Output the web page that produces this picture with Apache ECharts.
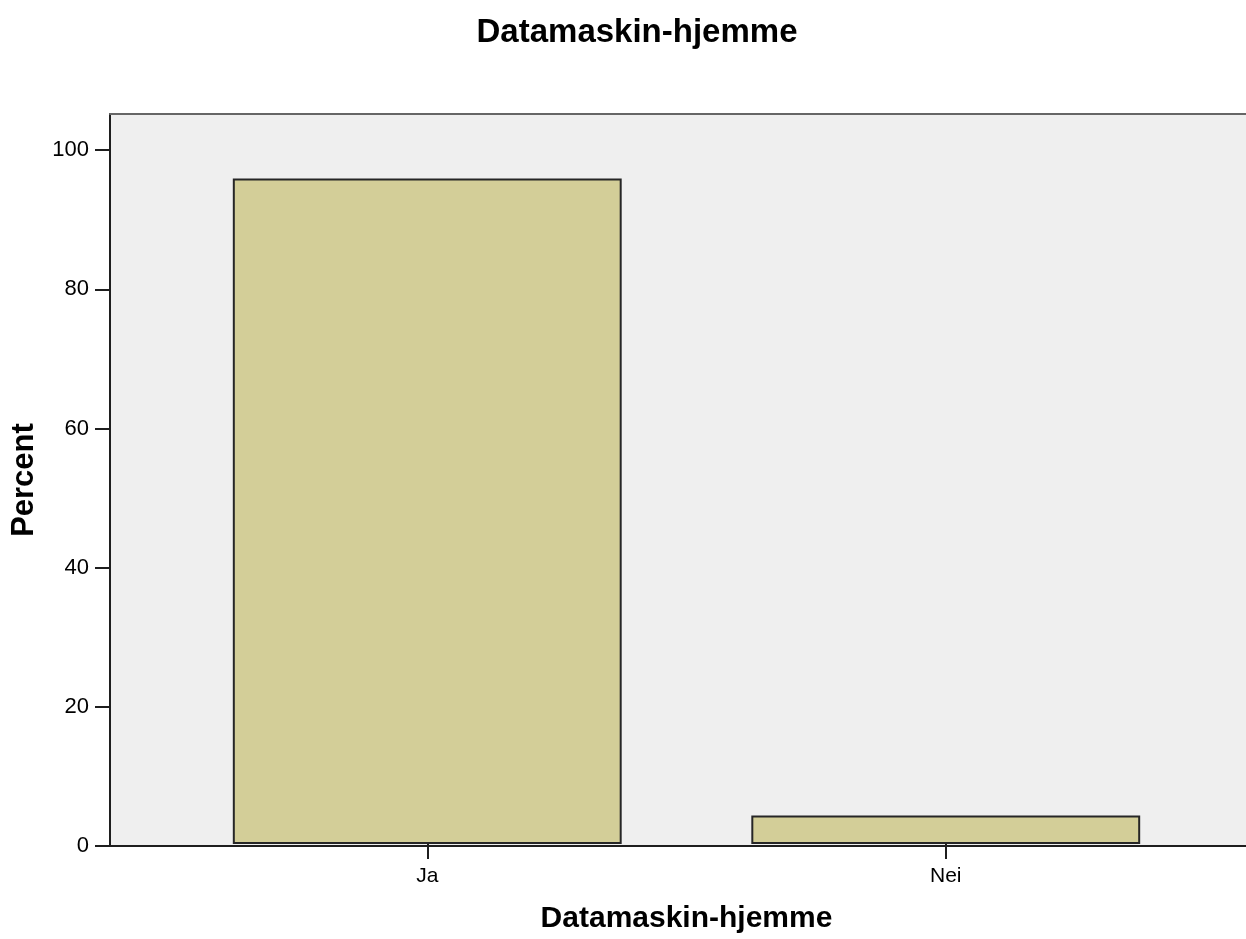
<!DOCTYPE html>
<html>
<head>
<meta charset="utf-8">
<title>Datamaskin-hjemme</title>
<script src="https://cdn.jsdelivr.net/npm/echarts@6/dist/echarts.min.js"></script>
<style>
  html, body { margin: 0; padding: 0; background: #fff; }
  #chart { width: 1246px; height: 939px; }
</style>
</head>
<body>
<div id="chart"></div>
<script>
// data
const categories = ['Ja', 'Nei'];
const percentValues = [95.9, 4.1];
const yTicks = [0, 20, 40, 60, 80, 100];

const yMax = 105.2;
const fontFamily = '"Liberation Sans", Arial, sans-serif';
const inkColor = '#1e1e1e';

const chart = echarts.init(document.getElementById('chart'));

const option = {
  backgroundColor: '#ffffff',
  animation: false,
  title: {
    text: 'Datamaskin-hjemme',
    left: 632,
    top: 11,
    textAlign: 'center',
    textStyle: { fontFamily, fontSize: 33, fontWeight: 'bold', color: '#000' }
  },
  grid: [
    // frame / plot background (open on the right)
    {
      left: 110, right: 0, top: 114, bottom: 93,
      show: true,
      backgroundColor: '#efefef',
      borderWidth: 0
    },
    // bar area (category bands)
    {
      left: 168, right: 41, top: 114, bottom: 93
    }
  ],
  xAxis: [
    {
      gridIndex: 0,
      type: 'value',
      min: 0,
      max: 1,
      axisLine: { show: true, lineStyle: { color: inkColor, width: 2 } },
      axisTick: { show: false },
      axisLabel: { show: false },
      splitLine: { show: false }
    },
    {
      gridIndex: 1,
      type: 'category',
      data: categories,
      name: 'Datamaskin-hjemme',
      nameLocation: 'middle',
      nameGap: 60,
      nameTextStyle: { fontFamily, fontSize: 30, fontWeight: 'bold', color: '#000' },
      axisLine: { show: false },
      axisTick: {
        show: true,
        alignWithLabel: true,
        length: 15,
        lineStyle: { color: inkColor, width: 2 }
      },
      axisLabel: { fontFamily, fontSize: 21, color: '#000', margin: 22 },
      splitLine: { show: false }
    },
    // top frame line
    {
      gridIndex: 0,
      type: 'value',
      position: 'top',
      min: 0,
      max: 1,
      axisLine: { show: true, lineStyle: { color: '#666666', width: 2 } },
      axisTick: { show: false },
      axisLabel: { show: false },
      splitLine: { show: false }
    }
  ],
  yAxis: [
    {
      gridIndex: 0,
      type: 'value',
      min: 0,
      max: yMax,
      name: 'Percent',
      nameLocation: 'middle',
      nameGap: 70,
      nameTextStyle: { fontFamily, fontSize: 31, fontWeight: 'bold', color: '#000' },
      axisLine: { show: true, lineStyle: { color: inkColor, width: 2 } },
      axisTick: {
        show: true,
        length: 15,
        customValues: yTicks,
        lineStyle: { color: inkColor, width: 2 }
      },
      axisLabel: {
        fontFamily, fontSize: 22, color: '#000', margin: 21,
        customValues: yTicks
      },
      splitLine: { show: false }
    },
    {
      gridIndex: 1,
      type: 'value',
      min: 0,
      max: yMax,
      show: false
    }
  ],
  series: [
    {
      name: 'Percent',
      type: 'bar',
      xAxisIndex: 1,
      yAxisIndex: 1,
      data: percentValues,
      barCategoryGap: '25%',
      itemStyle: {
        color: '#d3ce98',
        borderColor: '#262626',
        borderWidth: 2
      }
    }
  ]
};

chart.setOption(option);
</script>
</body>
</html>
